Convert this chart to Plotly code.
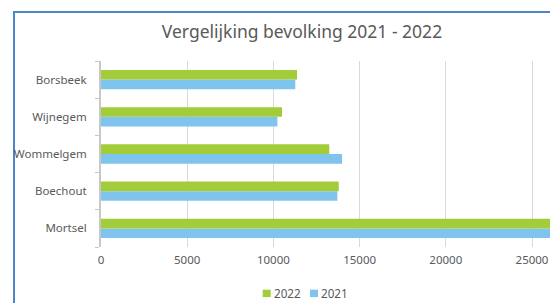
import plotly.graph_objects as go

categories = ["Mortsel", "Boechout", "Wommelgem", "Wijnegem", "Borsbeek"]
pop_2021 = [26400, 13710, 13980, 10230, 11270]
pop_2022 = [26550, 13790, 13240, 10500, 11370]
x_ticks = [0, 5000, 10000, 15000, 20000, 25000]
x_tick_text = ["0", "5000", "10000", "15000", "20000", "25000"]
series_names = ["2022", "2021"]
series_colors = ["#A3CC3B", "#7EC4EC"]

W, H = 550, 303
L, R_PIX, T, B_PIX = 101, 550, 61, 246.7
pw = R_PIX - L
ph = B_PIX - T

def px(x):
    return (x - L) / pw

def py(y):
    return (B_PIX - y) / ph

grey = "#595959"
font_family = "Noto Sans, Open Sans, sans-serif"

fig = go.Figure()
fig.add_trace(go.Bar(name=series_names[1], y=categories, x=pop_2021, orientation="h",
                     marker=dict(color=series_colors[1], line=dict(width=0)),
                     showlegend=False))
fig.add_trace(go.Bar(name=series_names[0], y=categories, x=pop_2022, orientation="h",
                     marker=dict(color=series_colors[0], line=dict(width=0)),
                     showlegend=False))

shapes = [dict(type="rect", xref="paper", yref="paper",
               x0=px(14), x1=2.0, y0=-2.0, y1=py(12),
               line=dict(color="#4A86C8", width=2), fillcolor="rgba(0,0,0,0)",
               layer="below")]
annotations = []
legend_items = [(262.7, 273.3), (310.0, 320.0)]
for (sx, tx), name, col in zip(legend_items, series_names, series_colors):
    shapes.append(dict(type="rect", xref="paper", yref="paper",
                       x0=px(sx), x1=px(sx + 8), y0=py(296.7), y1=py(289.3),
                       line=dict(width=0), fillcolor=col))
    annotations.append(dict(text=name, xref="paper", yref="paper",
                            x=px(tx - 1), y=py(293), xanchor="left", yanchor="middle",
                            showarrow=False, font=dict(size=11.7, color=grey)))

fig.update_layout(
    width=W, height=H,
    margin=dict(l=L, r=W - R_PIX, t=T, b=H - B_PIX, pad=0),
    paper_bgcolor="white", plot_bgcolor="white",
    barmode="group", bargap=0.48, bargroupgap=0,
    font=dict(family=font_family, color=grey, size=11.5),
    title=dict(text="Vergelijking bevolking 2021 - 2022",
               font=dict(size=17.5, color=grey, family=font_family),
               xref="paper", x=px(302), xanchor="center",
               yref="container", y=1 - 32.3 / H, yanchor="middle"),
    showlegend=False,
    xaxis=dict(range=[0, pw / 0.017240], tickvals=x_ticks, ticktext=x_tick_text,
               showgrid=True, gridcolor="#d9d9d9", gridwidth=1.3,
               zeroline=False, showline=False, ticks="",
               ticklabelstandoff=4, tickfont=dict(size=11.5, color=grey),
               fixedrange=True),
    yaxis=dict(showline=True, linecolor="#c8c8c8", linewidth=2,
               ticks="outside", tickson="boundaries", ticklen=4,
               tickcolor="#c8c8c8", tickwidth=1, ticklabelstandoff=10,
               tickfont=dict(size=11.5, color=grey), showgrid=False,
               fixedrange=True),
    shapes=shapes,
    annotations=annotations,
)

fig.write_html("out.html", config={"displayModeBar": False},
               post_script="document.body.style.margin='0';"
                           "document.body.style.overflow='hidden';")
